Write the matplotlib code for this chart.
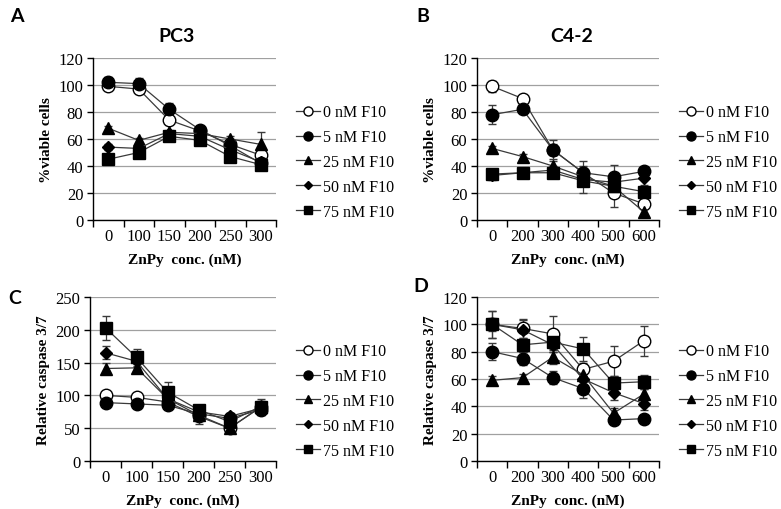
import matplotlib
matplotlib.use("Agg")
import matplotlib.pyplot as plt
from matplotlib.ticker import FixedLocator
from matplotlib.lines import Line2D
import numpy as np

series_labels = ["0 nM F10", "5 nM F10", "25 nM F10", "50 nM F10", "75 nM F10"]

# Panel A: PC3 viability
a_cats = ["0", "100", "150", "200", "250", "300"]
a_0 = [99, 97, 74, 66, 56, 48]
a_5 = [102, 101, 82, 67, 55, 42]
a_25 = [68, 59, 65, 64, 60, 56]
a_50 = [54, 53, 64, 62, 52, 43]
a_75 = [45, 50, 62, 59, 47, 41]
a_err = [[2, 2, 2, 2, 2, 3], [4, 4, 5, 2, 3, 3], [2, 2, 2, 2, 2, 9], [2, 2, 2, 2, 2, 2], [2, 2, 2, 2, 2, 4]]

# Panel B: C4-2 viability
b_cats = ["0", "200", "300", "400", "500", "600"]
b_0 = [99, 90, 52, 35, 20, 12]
b_5 = [78, 82, 52, 35, 32, 36]
b_25 = [53, 47, 40, 32, 25, 6]
b_50 = [33, 35, 37, 30, 28, 31]
b_75 = [34, 35, 35, 29, 25, 21]
b_err = [[4, 2, 4, 3, 10, 3], [7, 2, 7, 5, 9, 3], [2, 2, 4, 12, 3, 3], [3, 2, 3, 3, 3, 5], [2, 2, 2, 3, 3, 3]]

# Panel C: PC3 caspase
c_cats = ["0", "100", "150", "200", "250", "300"]
c_0 = [100, 97, 90, 68, 50, 82]
c_5 = [89, 87, 85, 72, 65, 78]
c_25 = [141, 142, 95, 70, 50, 82]
c_50 = [165, 152, 95, 75, 68, 80]
c_75 = [203, 158, 105, 78, 60, 83]
c_err = [[4, 4, 4, 12, 5, 12], [4, 4, 4, 4, 5, 5], [8, 6, 5, 5, 5, 5], [10, 8, 5, 5, 5, 5], [18, 13, 15, 5, 6, 8]]

# Panel D: C4-2 caspase
d_cats = ["0", "200", "300", "400", "500", "600"]
d_0 = [100, 97, 93, 67, 73, 88]
d_5 = [80, 75, 61, 53, 30, 31]
d_25 = [59, 61, 76, 63, 35, 49]
d_50 = [100, 96, 85, 60, 50, 42]
d_75 = [100, 85, 87, 82, 57, 58]
d_err = [[10, 7, 13, 5, 11, 11], [6, 5, 5, 7, 3, 3], [3, 3, 5, 5, 4, 4], [5, 7, 5, 5, 5, 5], [10, 5, 5, 9, 5, 5]]

serif = "Liberation Serif"
sans = "Lato"
W, H = 781, 510
fig = plt.figure(figsize=(W / 100, H / 100), dpi=100)

styles = [
    dict(marker="o", mfc="white", mec="black", ms=9, mew=1.0),
    dict(marker="o", mfc="black", mec="black", ms=9, mew=1.0),
    dict(marker="^", mfc="black", mec="black", ms=8.5, mew=1.0),
    dict(marker="D", mfc="black", mec="black", ms=6, mew=1.0),
    dict(marker="s", mfc="black", mec="black", ms=8.5, mew=1.0),
]
line_color = "#3a3a3a"


def box(l, t, r, b):
    return [l / W, 1 - b / H, (r - l) / W, (b - t) / H]


def panel(rect, cats, data, errs, ymax, ystep, ylabel, legend_center_y):
    ax = fig.add_axes(box(*rect))
    x = np.arange(len(cats))
    for vals, err, st in zip(data, errs, styles):
        ax.errorbar(x, vals, yerr=err, color=line_color, lw=0.9, ecolor=line_color,
                    elinewidth=0.9, capsize=3, capthick=0.9, zorder=3, **st)
    ax.set_xlim(-0.5, len(cats) - 0.5)
    ax.set_ylim(0, ymax)
    ax.set_yticks(np.arange(0, ymax + 1, ystep))
    ax.yaxis.grid(True, color="#a0a0a0", lw=0.9)
    ax.set_axisbelow(True)
    ax.set_xticks(x)
    ax.set_xticklabels(cats)
    ax.xaxis.set_minor_locator(FixedLocator(np.arange(-0.5, len(cats), 1.0)))
    ax.tick_params(axis="x", which="major", length=0, pad=6)
    ax.tick_params(axis="x", which="minor", length=5, width=1, direction="out")
    ax.tick_params(axis="y", length=4, width=1, pad=3)
    for lab in ax.get_xticklabels() + ax.get_yticklabels():
        lab.set_fontfamily(serif)
        lab.set_fontsize(12)
    for s in ["top", "right"]:
        ax.spines[s].set_visible(False)
    for s in ["left", "bottom"]:
        ax.spines[s].set_linewidth(1.0)
    ax.set_ylabel(ylabel, fontfamily=serif, fontweight="bold", fontsize=11, labelpad=4)
    ax.set_xlabel("ZnPy  conc. (nM)", fontfamily=serif, fontweight="bold", fontsize=11, labelpad=6)
    handles = []
    for st in styles:
        s2 = dict(st)
        s2["ms"] = st["ms"] * 0.72
        handles.append(Line2D([0], [0], color=line_color, lw=0.9, **s2))
    fig.legend(handles, series_labels, loc="center left",
               bbox_to_anchor=((rect[2] + 20) / W, 1 - legend_center_y / H),
               frameon=False, prop={"family": serif, "size": 11.5},
               handlelength=1.5, handletextpad=0.2, labelspacing=0.55,
               borderaxespad=0, borderpad=0)
    return ax


panel((93, 59, 276, 221), a_cats, [a_0, a_5, a_25, a_50, a_75], a_err, 120, 20, "%viable cells", 163)
panel((477, 59, 659, 221), b_cats, [b_0, b_5, b_25, b_50, b_75], b_err, 120, 20, "%viable cells", 163)
panel((90, 298, 276, 462), c_cats, [c_0, c_5, c_25, c_50, c_75], c_err, 250, 50, "Relative caspase 3/7", 402)
panel((477, 298, 659, 462), d_cats, [d_0, d_5, d_25, d_50, d_75], d_err, 120, 20, "Relative caspase 3/7", 402)

fig.text(177 / W, 1 - 37 / H, "PC3", fontfamily=sans, fontweight="bold", fontsize=14, ha="center", va="center")
fig.text(572 / W, 1 - 37 / H, "C4-2", fontfamily=sans, fontweight="bold", fontsize=14, ha="center", va="center")
for lab, px, py in [("A", 17, 17), ("B", 423, 17), ("C", 15, 298), ("D", 421, 287)]:
    fig.text(px / W, 1 - py / H, lab, fontfamily=sans, fontweight="bold", fontsize=14, ha="center", va="center")

fig.savefig("out.png", dpi=100)
